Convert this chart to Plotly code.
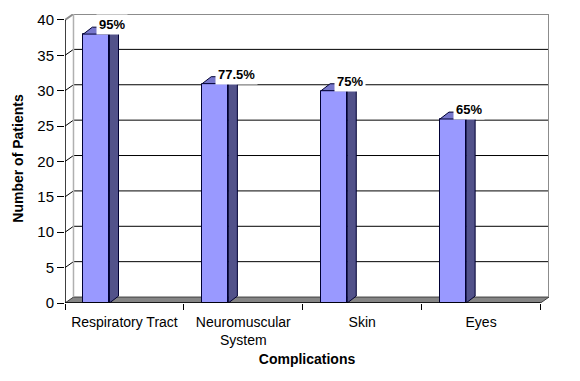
import plotly.graph_objects as go

# ---- data ----
categories = ["Respiratory Tract", "Neuromuscular<br>System", "Skin", "Eyes"]
patients = [38, 31, 30, 26]
pct_labels = ["95%", "77.5%", "75%", "65%"]
y_ticks = [0, 5, 10, 15, 20, 25, 30, 35, 40]

# ---- styling / geometry constants ----
FONT = "Arial, Liberation Sans, sans-serif"
FRONT = "#9999FF"
SIDE = "#52528A"
TOP = "#7777CC"
EDGE = "#000033"
WALL = "#8C8C8C"
FLOOR = "#858585"

BAR_W = 0.22
BAR_OFF = -0.346
BDX, BDY = 0.076, 0.98     # bar depth (x units, y units)
DXW, DYW = 0.0714, 0.84    # wall depth
YMAX = y_ticks[-1]
xpos = list(range(len(categories)))
x0, x1 = -0.5, len(categories) - 0.5

fig = go.Figure()

# front faces
fig.add_trace(go.Bar(
    x=xpos, y=patients, width=BAR_W, offset=BAR_OFF,
    marker=dict(color=FRONT, line=dict(color=EDGE, width=1)),
    hoverinfo="skip", showlegend=False,
))

# side and top faces (computed from data)
sx, sy, tx, ty = [], [], [], []
for i, v in zip(xpos, patients):
    l = i + BAR_OFF
    r = l + BAR_W
    sx += [r, r, r + BDX, r + BDX, r, None]
    sy += [0, v, v + BDY, BDY, 0, None]
    tx += [l, r, r + BDX, l + BDX, l, None]
    ty += [v, v, v + BDY, v + BDY, v, None]
fig.add_trace(go.Scatter(x=sx, y=sy, mode="lines", fill="toself", fillcolor=SIDE,
                         line=dict(color=EDGE, width=1), hoverinfo="skip", showlegend=False))
fig.add_trace(go.Scatter(x=tx, y=ty, mode="lines", fill="toself", fillcolor=TOP,
                         line=dict(color=EDGE, width=1), hoverinfo="skip", showlegend=False))

shapes = []
# floor
shapes.append(dict(type="path", layer="below", xref="x", yref="y",
                   path=f"M {x0},0 L {x1},0 L {x1 + DXW},{DYW} L {x0 + DXW},{DYW} Z",
                   fillcolor=FLOOR, line=dict(color="#404040", width=1)))
# wall gridlines and connectors
for v in y_ticks[1:-1]:
    shapes.append(dict(type="line", layer="below", xref="x", yref="y",
                       x0=x0, y0=v, x1=x0 + DXW, y1=v + DYW, line=dict(color="#000000", width=1)))
    shapes.append(dict(type="line", layer="below", xref="x", yref="y",
                       x0=x0 + DXW, y0=v + DYW, x1=x1 + DXW, y1=v + DYW, line=dict(color="#000000", width=1)))
# wall borders
shapes.append(dict(type="path", layer="below", xref="x", yref="y",
                   path=f"M {x0},{YMAX} L {x0 + DXW},{YMAX + DYW} L {x1 + DXW},{YMAX + DYW} L {x1 + DXW},{DYW}",
                   line=dict(color=WALL, width=2)))
shapes.append(dict(type="line", layer="below", xref="x", yref="y",
                   x0=x0 + DXW, y0=DYW, x1=x0 + DXW, y1=YMAX + DYW, line=dict(color="#B0B0B0", width=1.5)))
# front axes lines
shapes.append(dict(type="line", layer="above", xref="x", yref="y",
                   x0=x0, y0=0, x1=x0, y1=YMAX, line=dict(color="#000000", width=1.5)))
shapes.append(dict(type="line", layer="above", xref="x", yref="y",
                   x0=x0, y0=0, x1=x1, y1=0, line=dict(color="#000000", width=1.5)))

annotations = []
for i, v, t in zip(xpos, patients, pct_labels):
    annotations.append(dict(
        x=i + BAR_OFF + BAR_W / 2, y=v + 1.3, xref="x", yref="y", text=f"<b>{t}</b>",
        showarrow=False, xanchor="left", yanchor="middle", bgcolor="white", borderpad=2,
        font=dict(family=FONT, size=13, color="black"),
    ))

# The page body has an 8px default margin, so the figure is sized to fit the window.
fig.update_layout(
    width=572, height=373,
    margin=dict(l=57, r=31, t=3, b=78),
    paper_bgcolor="white", plot_bgcolor="white",
    font=dict(family=FONT, size=14, color="black"),
    shapes=shapes, annotations=annotations,
    bargap=0,
    xaxis=dict(
        range=[x0, x1 + DXW], tickmode="array", tickvals=xpos, ticktext=categories,
        ticks="", showgrid=False, zeroline=False, showline=False, ticklabelstandoff=9,
        minor=dict(tick0=-0.5, dtick=1, ticks="outside", ticklen=6, tickcolor="black", showgrid=False),
        title=dict(text="<b>Complications</b>", font=dict(size=14), standoff=6),
        fixedrange=True,
    ),
    yaxis=dict(
        range=[0, YMAX + DYW], tickmode="array", tickvals=y_ticks,
        ticks="outside", ticklen=7, tickcolor="black", showgrid=False, zeroline=False, showline=False,
        tickfont=dict(size=15),
        title=dict(text="<b>Number of Patients</b>", font=dict(size=14), standoff=10),
        fixedrange=True,
    ),
)

fig.write_html("out.html")
